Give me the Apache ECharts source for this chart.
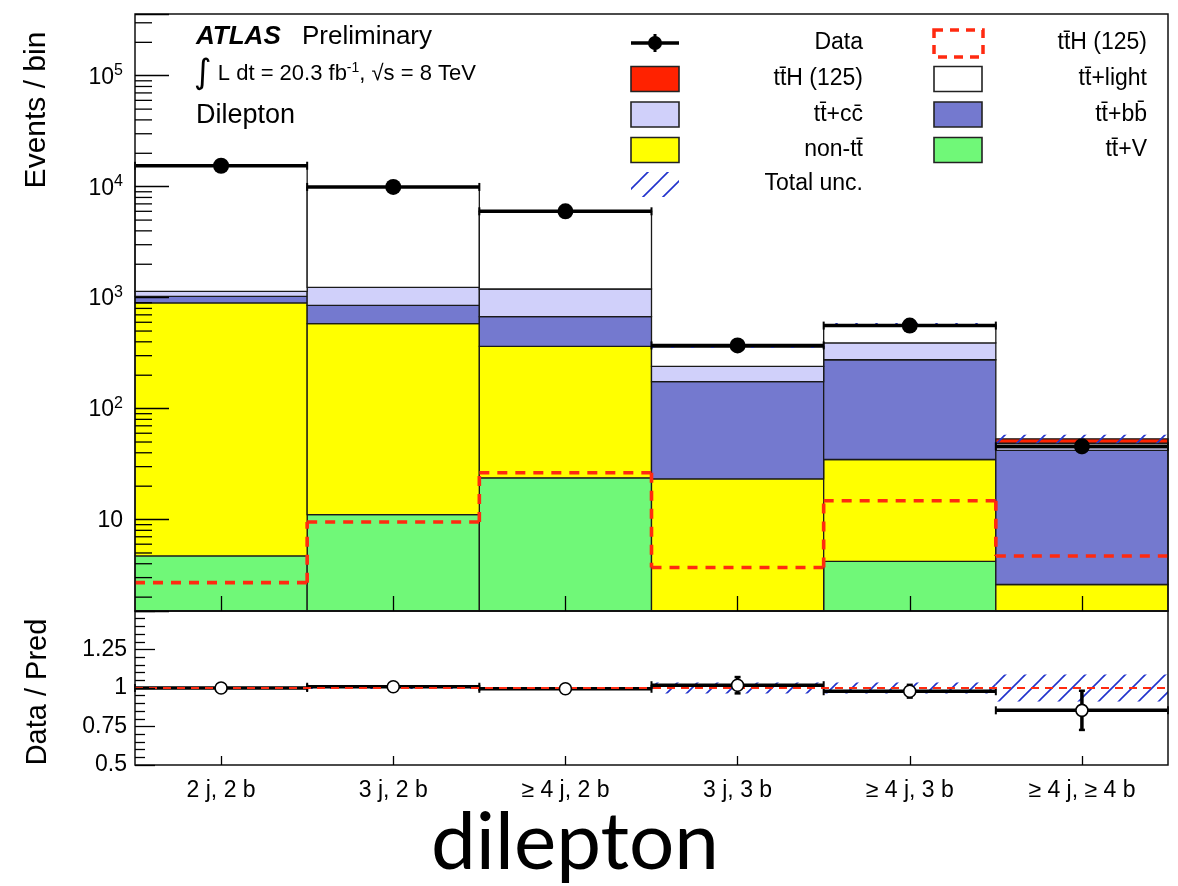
<!DOCTYPE html>
<html>
<head>
<meta charset="utf-8">
<script src="https://cdn.jsdelivr.net/npm/echarts@6/dist/echarts.min.js"></script>
<style>
  html, body { margin: 0; padding: 0; background: #fff; }
  #chart { width: 1178px; height: 886px; }
</style>
</head>
<body>
<div id="chart"></div>
<script>
// ---- analysis categories and yields ----
const bins = ['2 j, 2 b', '3 j, 2 b', '\u2265 4 j, 2 b', '3 j, 3 b', '\u2265 4 j, 3 b', '\u2265 4 j, \u2265 4 b'];

const dataCounts = [15450, 9950, 6000, 371, 560, 45.7];
const dataErrors = [124, 100, 77, 19.3, 23.7, 6.8];

// background and signal yields, listed bottom-to-top of the stack
const ttV     = [4.7, 11.1, 23.8, 1.2, 4.2, 1.0];
const nonTT   = [891, 572, 340, 22.1, 30.6, 1.6];
const ttbb    = [132, 270, 310, 152, 241, 39.5];
const ttcc    = [112, 387, 523, 65, 115, 2.5];
const ttLight = [14308, 8621, 4807, 120.4, 166.4, 4.15];
const ttH     = [2.7, 9.5, 26.4, 3.7, 14.8, 4.7];

// relative total uncertainty on the prediction
const totalUncFrac = [0.006, 0.006, 0.006, 0.035, 0.035, 0.087];

// axis ranges and tick values
const yRange = [1.5, 3.6e5];
const ratioRange = [0.5, 1.5];
const logMinorMantissas = [2, 3, 4, 5, 6, 7, 8, 9];
const logDecades = [1, 10, 100, 1000, 10000, 100000];

// ---- labels ----
const TT = 'tt\u0304';
const legendLabels = {
  data: 'Data',
  ttHline: TT + 'H (125)',
  ttH: TT + 'H (125)',
  light: TT + '+light',
  cc: TT + '+cc\u0304',
  bb: TT + '+bb\u0304',
  nonTT: 'non-' + TT,
  ttV: TT + '+V',
  unc: 'Total unc.'
};

const COLORS = {
  ttV: '#70f878', nonTT: '#ffff00', bb: '#7479cf', cc: '#d0d0fa',
  light: '#ffffff', ttH: '#ff2200', dash: '#ff2a10', hatch: '#2233cc'
};

const layers = [
  { values: ttV, color: COLORS.ttV },
  { values: nonTT, color: COLORS.nonTT },
  { values: ttbb, color: COLORS.bb },
  { values: ttcc, color: COLORS.cc },
  { values: ttLight, color: COLORS.light },
  { values: ttH, color: COLORS.ttH }
];

// cumulative stack boundaries
let base = bins.map(() => 0);
const stacked = layers.map(l => {
  const lo = base.slice();
  const hi = base.map((b, i) => b + l.values[i]);
  base = hi;
  return { lo, hi, color: l.color };
});
const totalPred = base;

// diagonal hatching pattern for the uncertainty band
const hatch = document.createElement('canvas');
hatch.width = 20; hatch.height = 20;
(function () {
  const g = hatch.getContext('2d');
  g.strokeStyle = COLORS.hatch;
  g.lineWidth = 1.6;
  g.beginPath();
  g.moveTo(0, 20); g.lineTo(20, 0);
  g.moveTo(-6, 6); g.lineTo(6, -6);
  g.moveTo(14, 26); g.lineTo(26, 14);
  g.stroke();
})();
const hatchFill = { image: hatch, repeat: 'repeat' };

const FONT = 'Liberation Sans, Arial, Helvetica, sans-serif';

function bandWidth(api, yv) {
  return api.coord([1, yv])[0] - api.coord([0, yv])[0];
}
function clampY(v) { return Math.max(v, yRange[0]); }

// ---- series: upper panel ----
const series = [];

stacked.forEach((s, k) => {
  series.push({
    type: 'custom', coordinateSystem: 'cartesian2d', xAxisIndex: 0, yAxisIndex: 0,
    z: 2 + k * 0.01,
    encode: { x: 0, y: 2 },
    data: bins.map((_, i) => [i, s.lo[i], s.hi[i]]),
    renderItem(params, api) {
      const i = api.value(0);
      const lo = clampY(api.value(1)), hi = clampY(api.value(2));
      const w = bandWidth(api, lo);
      const p0 = api.coord([i, lo]), p1 = api.coord([i, hi]);
      return {
        type: 'rect',
        shape: { x: p0[0] - w / 2, y: p1[1], width: w, height: p0[1] - p1[1] },
        style: { fill: s.color, stroke: '#1a1a1a', lineWidth: 1.3 }
      };
    }
  });
});

// total uncertainty band around the stack top
series.push({
  type: 'custom', coordinateSystem: 'cartesian2d', xAxisIndex: 0, yAxisIndex: 0, z: 3,
  encode: { x: 0, y: 1 },
  data: bins.map((_, i) => [i, totalPred[i], totalUncFrac[i]]),
  renderItem(params, api) {
    const i = api.value(0), t = api.value(1), f = api.value(2);
    const w = bandWidth(api, t);
    const a = api.coord([i, t * (1 + f)]), b = api.coord([i, t * (1 - f)]);
    return {
      type: 'rect',
      shape: { x: a[0] - w / 2, y: a[1], width: w, height: b[1] - a[1] },
      style: { fill: hatchFill, stroke: null }
    };
  }
});

// ttH signal overlaid as a dashed histogram
series.push({
  type: 'custom', coordinateSystem: 'cartesian2d', xAxisIndex: 0, yAxisIndex: 0, z: 4,
  encode: { x: 0, y: 1 },
  data: bins.map((_, i) => [i, ttH[i], i > 0 ? ttH[i - 1] : ttH[i]]),
  renderItem(params, api) {
    const i = api.value(0), v = api.value(1), prev = api.value(2);
    const w = bandWidth(api, v);
    const c = api.coord([i, v]);
    const xl = c[0] - w / 2, xr = c[0] + w / 2;
    const style = { stroke: COLORS.dash, lineWidth: 3.6, lineDash: [10, 8], fill: null };
    const children = [{ type: 'line', shape: { x1: xl, y1: c[1], x2: xr, y2: c[1] }, style }];
    if (i > 0) {
      const py = api.coord([i, prev])[1];
      children.push({ type: 'line', shape: { x1: xl, y1: py, x2: xl, y2: c[1] }, style });
    }
    return { type: 'group', children };
  }
});

// data points
series.push({
  type: 'custom', coordinateSystem: 'cartesian2d', xAxisIndex: 0, yAxisIndex: 0, z: 5,
  encode: { x: 0, y: 1 },
  data: bins.map((_, i) => [i, dataCounts[i], dataErrors[i]]),
  renderItem(params, api) {
    const i = api.value(0), v = api.value(1), e = api.value(2);
    const w = bandWidth(api, v);
    const c = api.coord([i, v]);
    const yt = api.coord([i, v + e])[1], yb = api.coord([i, clampY(v - e)])[1];
    const xl = c[0] - w / 2, xr = c[0] + w / 2;
    const st = { stroke: '#000', lineWidth: 3.5 };
    return {
      type: 'group', children: [
        { type: 'line', shape: { x1: xl, y1: c[1], x2: xr, y2: c[1] }, style: st },
        { type: 'line', shape: { x1: xl, y1: c[1] - 4, x2: xl, y2: c[1] + 4 }, style: { stroke: '#000', lineWidth: 2 } },
        { type: 'line', shape: { x1: xr, y1: c[1] - 4, x2: xr, y2: c[1] + 4 }, style: { stroke: '#000', lineWidth: 2 } },
        { type: 'line', shape: { x1: c[0], y1: yt, x2: c[0], y2: yb }, style: st },
        { type: 'circle', shape: { cx: c[0], cy: c[1], r: 8 }, style: { fill: '#000' } }
      ]
    };
  }
});

// minor ticks of the logarithmic axis
const minorTickValues = [];
logDecades.forEach(d => logMinorMantissas.forEach(m => {
  const v = m * d;
  if (v > yRange[0] && v < yRange[1]) minorTickValues.push(v);
}));
series.push({
  type: 'custom', coordinateSystem: 'cartesian2d', xAxisIndex: 0, yAxisIndex: 0, z: 20,
  encode: { x: 0, y: 1 },
  data: minorTickValues.map(v => [0, v]),
  renderItem(params, api) {
    const v = api.value(1);
    const w = bandWidth(api, v);
    const c = api.coord([0, v]);
    const x0 = c[0] - w / 2;
    return { type: 'line', shape: { x1: x0, y1: c[1], x2: x0 + 17, y2: c[1] }, style: { stroke: '#000', lineWidth: 1.3 } };
  }
});

// ---- series: ratio panel ----
const ratio = dataCounts.map((d, i) => d / totalPred[i]);
const ratioErr = dataErrors.map((e, i) => e / totalPred[i]);

series.push({
  type: 'custom', coordinateSystem: 'cartesian2d', xAxisIndex: 1, yAxisIndex: 1, z: 2,
  encode: { x: 0, y: 1 },
  data: bins.map((_, i) => [i, 1, totalUncFrac[i]]),
  renderItem(params, api) {
    const i = api.value(0), f = api.value(2);
    const w = bandWidth(api, 1);
    const a = api.coord([i, 1 + f]), b = api.coord([i, 1 - f]);
    return {
      type: 'rect',
      shape: { x: a[0] - w / 2, y: a[1], width: w, height: b[1] - a[1] },
      style: { fill: hatchFill, stroke: null }
    };
  }
});

series.push({
  type: 'custom', coordinateSystem: 'cartesian2d', xAxisIndex: 1, yAxisIndex: 1, z: 3,
  encode: { x: 0, y: 1 },
  data: bins.map((_, i) => [i, ratio[i], ratioErr[i]]),
  renderItem(params, api) {
    const i = api.value(0), v = api.value(1), e = api.value(2);
    const w = bandWidth(api, v);
    const c = api.coord([i, v]);
    const yt = api.coord([i, v + e])[1], yb = api.coord([i, v - e])[1];
    const xl = c[0] - w / 2, xr = c[0] + w / 2;
    const st = { stroke: '#000', lineWidth: 3.5 };
    return {
      type: 'group', children: [
        { type: 'line', shape: { x1: xl, y1: c[1], x2: xr, y2: c[1] }, style: st },
        { type: 'line', shape: { x1: xl, y1: c[1] - 4, x2: xl, y2: c[1] + 4 }, style: { stroke: '#000', lineWidth: 2 } },
        { type: 'line', shape: { x1: xr, y1: c[1] - 4, x2: xr, y2: c[1] + 4 }, style: { stroke: '#000', lineWidth: 2 } },
        { type: 'line', shape: { x1: c[0], y1: yt, x2: c[0], y2: yb }, style: st },
        { type: 'line', shape: { x1: c[0] - 3, y1: yt, x2: c[0] + 3, y2: yt }, style: { stroke: '#000', lineWidth: 2.5 } },
        { type: 'line', shape: { x1: c[0] - 3, y1: yb, x2: c[0] + 3, y2: yb }, style: { stroke: '#000', lineWidth: 2.5 } }
      ]
    };
  },
  markLine: {
    silent: true, symbol: 'none', z: 4,
    label: { show: false },
    lineStyle: { color: COLORS.dash, width: 2, type: [8, 6] },
    data: [{ yAxis: 1 }]
  }
});

series.push({
  type: 'custom', coordinateSystem: 'cartesian2d', xAxisIndex: 1, yAxisIndex: 1, z: 6,
  encode: { x: 0, y: 1 },
  data: bins.map((_, i) => [i, ratio[i]]),
  renderItem(params, api) {
    const c = api.coord([api.value(0), api.value(1)]);
    return { type: 'circle', shape: { cx: c[0], cy: c[1], r: 6 }, style: { fill: '#fff', stroke: '#000', lineWidth: 1.6 } };
  }
});

// ---- legend, labels and titles ----
const L1x = 631, L2x = 934, boxW = 48, boxH = 25;
const T1x = 863, T2x = 1147;
const rowY = [43, 79, 114.5, 150, 184];
const legendFont = { fontSize: 23, fontFamily: FONT, fill: '#000', align: 'right', verticalAlign: 'middle' };

function legendText(x, y, text) {
  return { type: 'text', x, y, z: 30, style: Object.assign({ text }, legendFont) };
}
function legendBox(x, y, fill) {
  return { type: 'rect', z: 30, shape: { x, y: y - boxH / 2, width: boxW, height: boxH },
    style: { fill, stroke: '#222', lineWidth: 1.6 } };
}

const graphic = [
  // data marker
  { type: 'line', z: 30, shape: { x1: L1x, y1: rowY[0], x2: L1x + boxW, y2: rowY[0] }, style: { stroke: '#000', lineWidth: 3.5 } },
  { type: 'line', z: 30, shape: { x1: L1x + boxW / 2, y1: rowY[0] - 9, x2: L1x + boxW / 2, y2: rowY[0] + 9 }, style: { stroke: '#000', lineWidth: 3 } },
  { type: 'circle', z: 31, shape: { cx: L1x + boxW / 2, cy: rowY[0], r: 7 }, style: { fill: '#000' } },
  legendText(T1x, rowY[0], legendLabels.data),
  // ttH dashed
  { type: 'rect', z: 30, shape: { x: L2x, y: rowY[0] - 13, width: 49, height: 27 },
    style: { fill: null, stroke: COLORS.dash, lineWidth: 3.5, lineDash: [9, 7] } },
  legendText(T2x, rowY[0], legendLabels.ttHline),
  legendBox(L1x, rowY[1], COLORS.ttH), legendText(T1x, rowY[1], legendLabels.ttH),
  legendBox(L2x, rowY[1], COLORS.light), legendText(T2x, rowY[1], legendLabels.light),
  legendBox(L1x, rowY[2], COLORS.cc), legendText(T1x, rowY[2], legendLabels.cc),
  legendBox(L2x, rowY[2], COLORS.bb), legendText(T2x, rowY[2], legendLabels.bb),
  legendBox(L1x, rowY[3], COLORS.nonTT), legendText(T1x, rowY[3], legendLabels.nonTT),
  legendBox(L2x, rowY[3], COLORS.ttV), legendText(T2x, rowY[3], legendLabels.ttV),
  { type: 'rect', z: 30, shape: { x: L1x, y: rowY[4] - 12, width: boxW, height: 25 }, style: { fill: hatchFill, stroke: null } },
  legendText(T1x, rowY[4], legendLabels.unc),

  // experiment label
  { type: 'text', x: 196, y: 37, z: 30, style: { text: 'ATLAS', fontSize: 26, fontWeight: 'bold', fontStyle: 'italic', fontFamily: FONT, fill: '#000', verticalAlign: 'middle' } },
  { type: 'text', x: 302, y: 37, z: 30, style: { text: 'Preliminary', fontSize: 26, fontFamily: FONT, fill: '#000', verticalAlign: 'middle' } },
  { type: 'text', x: 194, y: 74, z: 30, style: {
      text: '{i|\u222b}{t| L dt = 20.3 fb}{s|-1}{t|, \u221as = 8 TeV}',
      fontFamily: FONT, fill: '#000', verticalAlign: 'middle',
      rich: {
        i: { fontSize: 34, fontFamily: 'DejaVu Sans', verticalAlign: 'middle', lineHeight: 26 },
        t: { fontSize: 22, fontFamily: FONT, verticalAlign: 'middle', lineHeight: 26 },
        s: { fontSize: 14, fontFamily: FONT, verticalAlign: 'top', lineHeight: 26 }
      } } },
  { type: 'text', x: 196, y: 116, z: 30, style: { text: 'Dilepton', fontSize: 27, fontFamily: FONT, fill: '#000', verticalAlign: 'middle' } },

  // axis titles
  { type: 'text', x: 37, y: 110, rotation: Math.PI / 2, z: 30, style: { text: 'Events / bin', fontSize: 30, fontFamily: FONT, fill: '#000', align: 'center', verticalAlign: 'middle' } },
  { type: 'text', x: 38, y: 692, rotation: Math.PI / 2, z: 30, style: { text: 'Data / Pred', fontSize: 29, fontFamily: FONT, fill: '#000', align: 'center', verticalAlign: 'middle' } },

  // channel caption
  { type: 'text', x: 575, y: 843, z: 30, style: { text: 'dilepton', fontSize: 80, fontFamily: 'Lato, Open Sans, sans-serif', fill: '#000', align: 'center', verticalAlign: 'middle' } }
];

const chart = echarts.init(document.getElementById('chart'), null, { renderer: 'canvas' });

const tickStyle = { color: '#000', width: 1.3 };

chart.setOption({
  animation: false,
  backgroundColor: '#fff',
  grid: [
    { left: 135, top: 14, width: 1033, height: 597, show: true, borderColor: '#111', borderWidth: 1.5, backgroundColor: 'transparent', z: 10 },
    { left: 135, top: 611, width: 1033, height: 154, show: true, borderColor: '#111', borderWidth: 1.5, backgroundColor: 'transparent', z: 10 }
  ],
  xAxis: [
    { type: 'category', gridIndex: 0, data: bins, z: 12,
      axisLine: { show: false },
      axisTick: { show: true, inside: true, alignWithLabel: true, length: 15, lineStyle: tickStyle },
      axisLabel: { show: false }, splitLine: { show: false } },
    { type: 'category', gridIndex: 1, data: bins, z: 12,
      axisLine: { show: false },
      axisTick: { show: true, inside: true, alignWithLabel: true, length: 9, lineStyle: tickStyle },
      axisLabel: { show: true, margin: 14, fontSize: 23, fontFamily: FONT, color: '#000' },
      splitLine: { show: false } }
  ],
  yAxis: [
    { type: 'log', logBase: 10, gridIndex: 0, min: yRange[0], max: yRange[1], z: 12,
      axisLine: { show: false },
      axisTick: { show: true, inside: true, length: 34, lineStyle: tickStyle },
      minorTick: { show: false }, splitLine: { show: false },
      axisLabel: {
        margin: 12, color: '#000',
        formatter(v) {
          const e = Math.log10(v), k = Math.round(e);
          if (Math.abs(e - k) > 1e-6) return '';
          return k === 1 ? '{b|10}' : '{b|10}{s|' + k + '}';
        },
        rich: {
          b: { fontSize: 23, fontFamily: FONT, color: '#000', verticalAlign: 'bottom', lineHeight: 26 },
          s: { fontSize: 16, fontFamily: FONT, color: '#000', verticalAlign: 'top', lineHeight: 26 }
        }
      } },
    { type: 'value', gridIndex: 1, min: ratioRange[0], max: ratioRange[1], interval: 0.25, z: 12,
      axisLine: { show: false },
      axisTick: { show: true, inside: true, length: 20, lineStyle: tickStyle },
      minorTick: { show: true, splitNumber: 5, length: 10, lineStyle: tickStyle },
      splitLine: { show: false },
      axisLabel: {
        margin: 8, fontSize: 23, fontFamily: FONT, color: '#000',
        formatter(v) { return v >= ratioRange[1] ? '' : String(v); }
      } }
  ],
  series,
  graphic
});
</script>
</body>
</html>
